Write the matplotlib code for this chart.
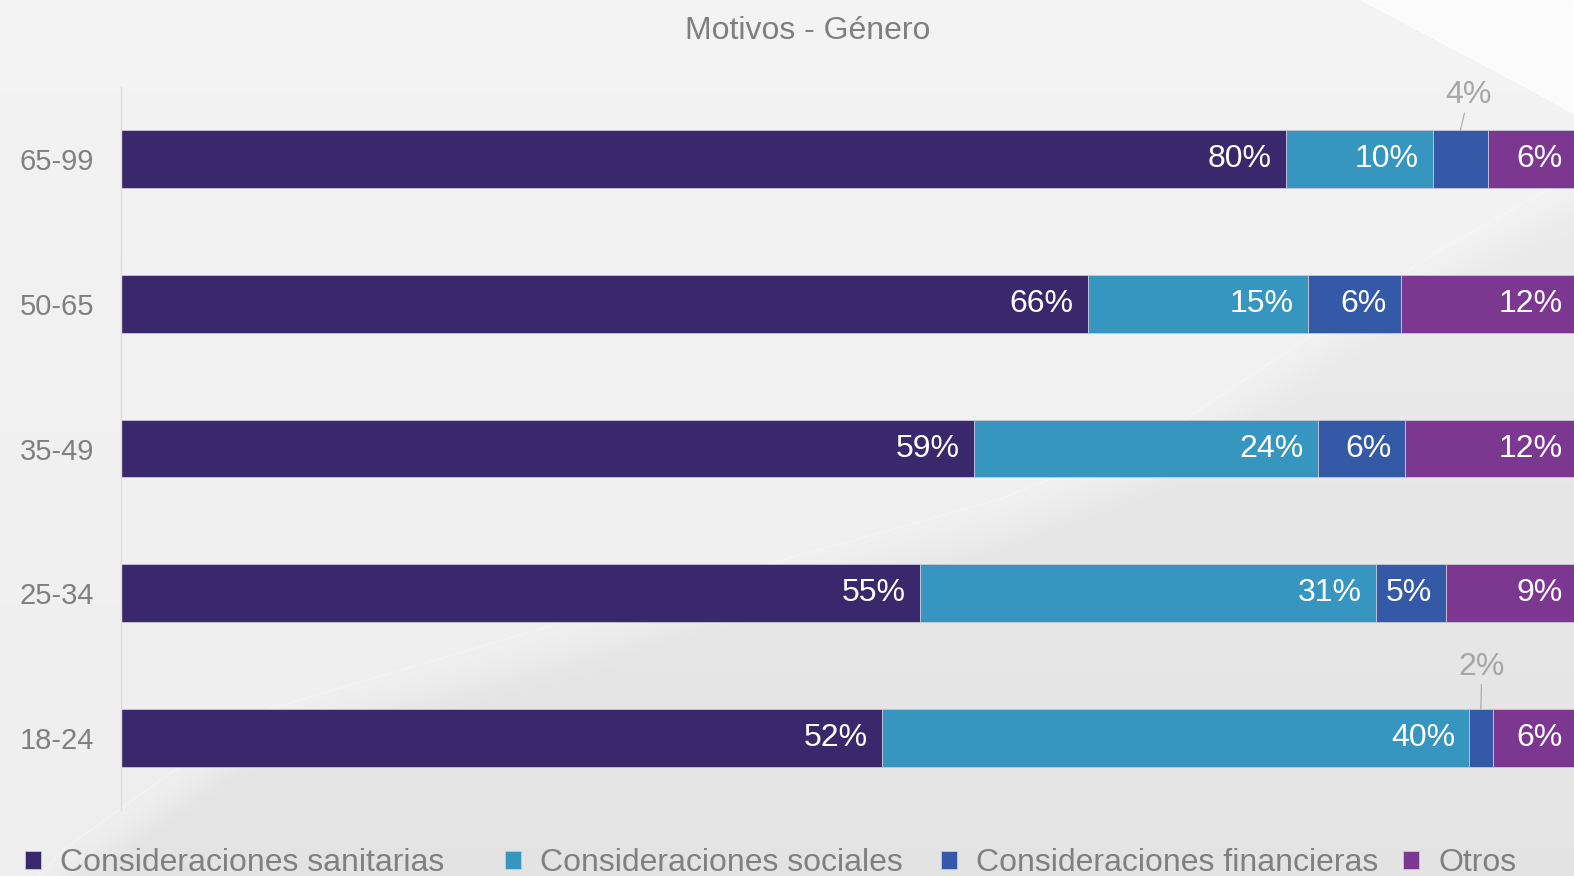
import numpy as np
import matplotlib
matplotlib.use("Agg")
import matplotlib.pyplot as plt

plt.rcParams['font.family'] = ['Liberation Sans', 'DejaVu Sans']

# data (bottom to top)
grupos = ["18-24", "25-34", "35-49", "50-65", "65-99"]
sanitarias = [52.3, 54.9, 58.6, 66.4, 80.0]
sociales = [40.3, 31.3, 23.6, 15.1, 10.1]
financieras = [1.6, 4.8, 6.0, 6.4, 3.8]
otros = [5.8, 9.0, 11.8, 12.1, 6.1]

series = [sanitarias, sociales, financieras, otros]
nombres = ["Consideraciones sanitarias", "Consideraciones sociales",
           "Consideraciones financieras", "Otros"]
colores = ["#39296c", "#3696bf", "#3459a6", "#7c3790"]

W, H = 1574, 876
fig = plt.figure(figsize=(W / 100, H / 100), dpi=100)

# background: light gray, slightly darker below a soft diagonal swoosh
bg = fig.add_axes([0, 0, 1, 1], zorder=-10)
xx, yy = np.meshgrid(np.linspace(0, 1, 800), np.linspace(1, 0, 450))
cx = [0.0, 0.04, 0.162, 0.406, 0.635, 0.74, 0.915, 1.0]
cy = [-0.05, 0.03, 0.186, 0.315, 0.43, 0.506, 0.715, 0.80]
d = yy - np.interp(xx, cx, cy)
light = 0.935 + 0.02 * yy
dark = 0.893 + 0.03 * np.clip(yy / 0.8, 0, 1)
w = np.clip(-d / 0.07, 0, 1)
w = w * w * (3 - 2 * w)
shade = light * (1 - w) + dark * w
bg.imshow(np.dstack([shade] * 3), extent=[0, 1, 0, 1],
          aspect='auto', origin='upper', interpolation='bilinear')
bg.plot(cx, cy, color="white", lw=1, alpha=0.3)
bg.fill([0.865, 1.0, 1.0, 0.97], [1.0, 1.0, 0.87, 0.9], color="white", alpha=0.75)
bg.set_xlim(0, 1)
bg.set_ylim(0, 1)
bg.axis("off")

ax = fig.add_axes([120.5 / W, 1 - 810 / H, (1577 - 120.5) / W, 723 / H])
ax.patch.set_alpha(0)

# offsets (pixels) for labels of the thin segments placed above the bar
fuera = {(2, 4): (8, 35), (2, 0): (1, 42)}

y = np.arange(len(grupos))
left = np.zeros(len(grupos))
handles = []
for k, (vals, nombre, c) in enumerate(zip(series, nombres, colores)):
    b = ax.barh(y, vals, left=left, height=0.4, color=c, label=nombre,
                edgecolor="#c8c8d8", linewidth=0.6)
    handles.append(b)
    for i, v in enumerate(vals):
        lab = f"{v:.0f}%"
        end = left[i] + v
        if (k, i) in fuera:
            mid = left[i] + v / 2
            ax.annotate(lab, (mid, y[i] + 0.2), xytext=fuera[(k, i)],
                        textcoords="offset pixels", ha="center", va="center",
                        color="#a6a6a6", fontsize=23,
                        arrowprops=dict(arrowstyle="-", color="#a6a6a6",
                                        lw=0.8, shrinkA=0, shrinkB=0))
        else:
            ax.annotate(lab, (min(end, 100), y[i]), xytext=(-14, 0),
                        textcoords="offset pixels", ha="right", va="center",
                        color="white", fontsize=23)
    left += np.array(vals)

ax.set_xlim(0, 100)
ax.set_ylim(-0.5, 4.5)
ax.set_yticks(y)
ax.set_yticklabels(grupos, fontsize=21, color="#808080")
ax.tick_params(axis="y", length=0, pad=19)
ax.set_xticks([])
for s in ["top", "right", "bottom"]:
    ax.spines[s].set_visible(False)
ax.spines["left"].set_color("#dcdcdc")
ax.spines["left"].set_linewidth(1)

fig.text(808 / W, 1 - 31 / H, "Motivos - Género", ha="center", va="center",
         fontsize=23, color="#7f7f7f")

# legend entries placed one by one along the bottom
pos_leyenda = [25, 505, 941, 1403]
for h, nombre, px in zip(handles, nombres, pos_leyenda):
    fig.legend([h], [nombre], loc="center left",
               bbox_to_anchor=(px / W, 1 - 863 / H),
               frameon=False, fontsize=23, labelcolor="#808080",
               handlelength=0.5, handleheight=0.5, handletextpad=0.6,
               borderpad=0, borderaxespad=0)

fig.savefig("out.png", dpi=100)
